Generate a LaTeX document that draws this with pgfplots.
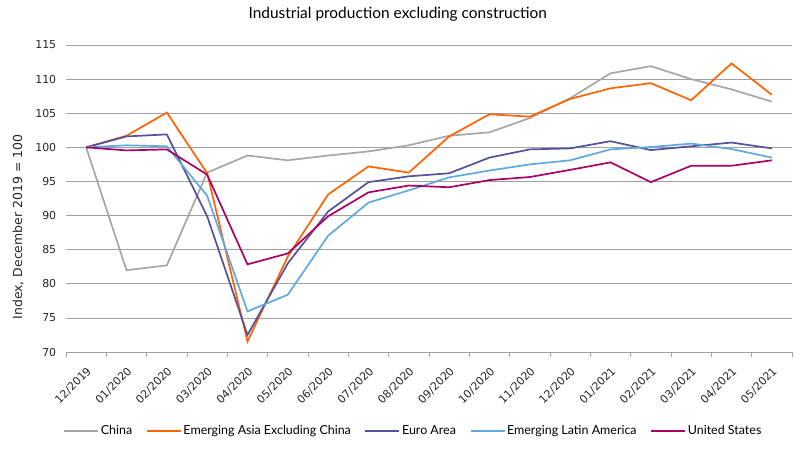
\documentclass[border=0pt]{standalone}
\usepackage{pgfplots}
\pgfplotsset{compat=1.18}
\usepackage{fontspec}
\setmainfont{DejaVu Sans}
\newfontfamily\ingfont{Lato}

\definecolor{cChina}{RGB}{166,166,166}
\definecolor{cAsia}{RGB}{255,98,0}
\definecolor{cEuro}{RGB}{82,81,153}
\definecolor{cLatam}{RGB}{96,168,224}
\definecolor{cUS}{RGB}{171,0,102}
\definecolor{cGrid}{RGB}{160,160,160}

\begin{document}
\begin{tikzpicture}
\begin{axis}[
    scale only axis,
    width=726bp, height=307bp,
    xmin=-0.5, xmax=17.5,
    ymin=70, ymax=115,
    ytick={70,75,...,115},
    xtick={0,...,17},
    xticklabels={12/2019,01/2020,02/2020,03/2020,04/2020,05/2020,06/2020,07/2020,08/2020,09/2020,10/2020,11/2020,12/2020,01/2021,02/2021,03/2021,04/2021,05/2021},
    minor xtick={-0.5,0.5,...,17.5},
    major x tick style={draw=none},
    minor x tick style={cGrid, line width=0.8bp},
    minor tick length=5bp,
    tick align=outside,
    axis x line*=bottom,
    axis y line*=left,
    x axis line style={cGrid, line width=0.8bp},
    y axis line style={draw=none},
    ytick style={draw=none},
    ymajorgrids,
    grid style={cGrid, line width=0.8bp},
    tick label style={font=\fontsize{11}{13}\selectfont, text=black!85},
    /pgf/number format/assume math mode=true,
    xticklabel style={yshift=-7bp, rotate=45, anchor=north east, inner sep=2bp},
    yticklabel style={xshift=-2bp},
    ylabel={Index, December 2019 = 100},
    ylabel style={at={(axis description cs:-0.066,0.407)}, anchor=center, rotate=0, font=\fontsize{12.5}{14}\selectfont, text=black!85},
    title={Industrial production excluding construction},
    title style={at={(axis description cs:0.457,1.082)}, anchor=center, font=\ingfont\fontsize{15.5}{18}\selectfont},
    legend columns=5,
    legend style={at={(axis description cs:0.478,-0.257)}, anchor=center, draw=none,
        font=\ingfont\fontsize{12.5}{15}\selectfont, inner xsep=0pt,
        nodes={inner xsep=1.5bp},
        /tikz/every even column/.append style={column sep=12bp}},
    legend image code/.code={\draw[#1, line width=2.2bp] (0bp,0bp) -- (34bp,0bp);},
    every axis plot/.append style={line width=1.7bp},
    clip=false,
]
\path (axis description cs:-0.0909,-0.3127) rectangle (axis description cs:1.0179,1.1466);
\addplot[color=cChina] coordinates {(0,100) (1,82.0) (2,82.7) (3,96.3) (4,98.8) (5,98.1) (6,98.8) (7,99.4) (8,100.3) (9,101.7) (10,102.2) (11,104.3) (12,107.2) (13,110.85) (14,111.9) (15,110.0) (16,108.5) (17,106.7)};
\addlegendentry{China}
\addplot[color=cAsia] coordinates {(0,100) (1,101.7) (2,105.1) (3,96.2) (4,71.55) (5,84.0) (6,93.1) (7,97.2) (8,96.3) (9,101.6) (10,104.85) (11,104.5) (12,107.1) (13,108.65) (14,109.4) (15,106.9) (16,112.3) (17,107.7)};
\addlegendentry{Emerging Asia Excluding China}
\addplot[color=cEuro] coordinates {(0,100) (1,101.6) (2,101.9) (3,89.9) (4,72.5) (5,83.0) (6,90.6) (7,94.9) (8,95.75) (9,96.2) (10,98.5) (11,99.7) (12,99.85) (13,100.9) (14,99.6) (15,100.15) (16,100.7) (17,99.85)};
\addlegendentry{Euro Area}
\addplot[color=cLatam] coordinates {(0,100) (1,100.3) (2,100.15) (3,92.9) (4,75.95) (5,78.4) (6,87.05) (7,91.9) (8,93.7) (9,95.6) (10,96.6) (11,97.5) (12,98.1) (13,99.7) (14,100.05) (15,100.55) (16,99.75) (17,98.5)};
\addlegendentry{Emerging Latin America}
\addplot[color=cUS] coordinates {(0,100) (1,99.55) (2,99.7) (3,96.0) (4,82.85) (5,84.45) (6,89.9) (7,93.4) (8,94.4) (9,94.15) (10,95.2) (11,95.65) (12,96.7) (13,97.8) (14,94.9) (15,97.3) (16,97.3) (17,98.1)};
\addlegendentry{United States}
\end{axis}
\end{tikzpicture}
\end{document}
